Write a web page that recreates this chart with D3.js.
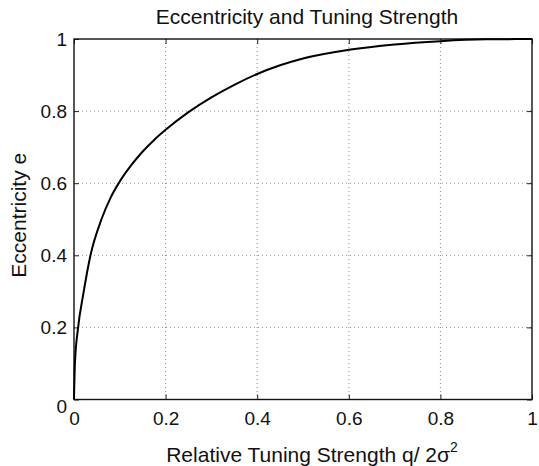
<!DOCTYPE html>
<html>
<head>
<meta charset="utf-8">
<script src="https://cdn.jsdelivr.net/npm/d3@7"></script>
<style>
    body { margin: 0; background: #fff; }
    text { font-family: "Liberation Sans", Arial, Helvetica, sans-serif; fill: #111; }
</style>
</head>
<body>
<svg id="chart-svg" width="539" height="466"></svg>
<script>
// values
const strength = [0, 0.002, 0.009, 0.02, 0.036, 0.06, 0.08, 0.1, 0.125, 0.15, 0.175, 0.2, 0.25, 0.3, 0.35, 0.4, 0.45, 0.5, 0.6, 0.7, 0.8, 0.9, 1];
const eccentricity = [0, 0.1, 0.2, 0.29, 0.4, 0.5, 0.56, 0.605, 0.65, 0.688, 0.72, 0.748, 0.797, 0.838, 0.873, 0.903, 0.927, 0.946, 0.97, 0.985, 0.994, 0.999, 1];
const xTicks = [0, 0.2, 0.4, 0.6, 0.8, 1];
const yTicks = [0, 0.2, 0.4, 0.6, 0.8, 1];
const title = "Eccentricity and Tuning Strength";
const yTitle = "Eccentricity e";

const svg = d3.select("#chart-svg");

const plot = {
    left: 74,
    right: 532,
    top: 39,
    bottom: 399.5,
}

const scale = {
    x: d3.scaleLinear([0, 1], [plot.left, plot.right]),
    y: d3.scaleLinear([0, 1], [plot.bottom, plot.top]),
}

const fmt = d => d === 0 || d === 1 ? String(d) : d.toFixed(1);

// dotted grid
const grid = svg.append("g").attr("id", "grid");
grid.selectAll(".gx")
    .data(xTicks.filter(d => d > 0 && d < 1))
    .enter()
    .append("line")
    .attr("x1", d => scale.x(d)).attr("x2", d => scale.x(d))
    .attr("y1", plot.top).attr("y2", plot.bottom);
grid.selectAll(".gy")
    .data(yTicks.filter(d => d > 0 && d < 1))
    .enter()
    .append("line")
    .attr("y1", d => scale.y(d)).attr("y2", d => scale.y(d))
    .attr("x1", plot.left).attr("x2", plot.right);
grid.selectAll("line")
    .attr("stroke", "#8c8c8c")
    .attr("stroke-width", 1)
    .attr("stroke-dasharray", "1,3");

// axes with inward ticks on all four sides
const axis = {
    x: svg.append("g")
        .attr("transform", `translate(0, ${plot.bottom})`)
        .call(d3.axisBottom(scale.x).tickValues(xTicks).tickFormat(fmt).tickSizeInner(-5).tickSizeOuter(0).tickPadding(12.5)),
    y: svg.append("g")
        .attr("transform", `translate(${plot.left}, 0)`)
        .call(d3.axisLeft(scale.y).tickValues(yTicks).tickFormat(fmt).tickSizeInner(-5).tickSizeOuter(0).tickPadding(7)),
    top: svg.append("g")
        .attr("transform", `translate(0, ${plot.top})`)
        .call(d3.axisTop(scale.x).tickValues(xTicks).tickFormat("").tickSizeInner(-5).tickSizeOuter(0)),
    right: svg.append("g")
        .attr("transform", `translate(${plot.right}, 0)`)
        .call(d3.axisRight(scale.y).tickValues(yTicks).tickFormat("").tickSizeInner(-5).tickSizeOuter(0)),
}

Object.values(axis).forEach(a => {
    a.select(".domain").remove();
    a.selectAll(".tick line").attr("stroke", "#222").attr("stroke-width", 1);
    a.selectAll("text")
        .style("font-family", "'Liberation Sans', Arial, sans-serif")
        .style("font-size", "19px")
        .attr("fill", "#111");
});

// the y "0" sits a little lower than its tick
axis.y.selectAll(".tick text").filter(d => d === 0).attr("y", 7);

// frame
svg.append("rect")
    .attr("x", plot.left)
    .attr("y", plot.top)
    .attr("width", plot.right - plot.left)
    .attr("height", plot.bottom - plot.top)
    .attr("fill", "none")
    .attr("stroke", "#111")
    .attr("stroke-width", 1.4);

// curve
const line = d3.line()
    .x(d => scale.x(d[0]))
    .y(d => scale.y(d[1]))
    .curve(d3.curveMonotoneX);

svg.append("path")
    .datum(d3.zip(strength, eccentricity))
    .attr("d", line)
    .attr("fill", "none")
    .attr("stroke", "#000")
    .attr("stroke-width", 2);

// titles
svg.append("text")
    .attr("x", (plot.left + plot.right) / 2 + 4)
    .attr("y", 24)
    .attr("text-anchor", "middle")
    .style("font-size", "21px")
    .text(title);

const xLabel = svg.append("text")
    .attr("x", (plot.left + plot.right) / 2 + 9)
    .attr("y", 462)
    .attr("text-anchor", "middle")
    .style("font-size", "21px");
xLabel.append("tspan").text("Relative Tuning Strength q/ 2σ");
xLabel.append("tspan").attr("dy", -10).style("font-size", "14px").text("2");

svg.append("text")
    .attr("transform", `translate(26, ${(plot.top + plot.bottom) / 2 - 4}) rotate(-90)`)
    .attr("text-anchor", "middle")
    .style("font-size", "21px")
    .text(yTitle);
</script>
</body>
</html>
